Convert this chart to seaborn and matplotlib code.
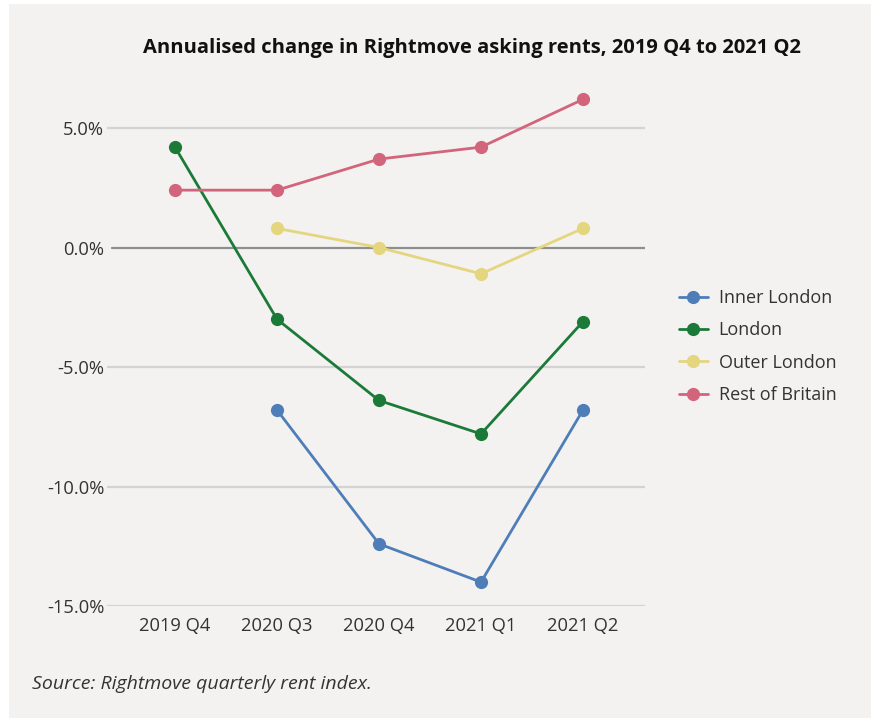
import numpy as np
import pandas as pd
import matplotlib
matplotlib.use("Agg")
import matplotlib.pyplot as plt
import seaborn as sns
from matplotlib.patches import Rectangle

quarters = ["2019 Q4", "2020 Q3", "2020 Q4", "2021 Q1", "2021 Q2"]
inner_london = [np.nan, -6.8, -12.4, -14.0, -6.8]
london = [4.2, -3.0, -6.4, -7.8, -3.1]
outer_london = [np.nan, 0.8, 0.0, -1.1, 0.8]
rest_of_britain = [2.4, 2.4, 3.7, 4.2, 6.2]
series_names = ["Inner London", "London", "Outer London", "Rest of Britain"]
colors = ["#4f7db8", "#1b7a38", "#e4d57f", "#d2647c"]
yticks = [5.0, 0.0, -5.0, -10.0, -15.0]

rows = []
for name, vals in zip(series_names, [inner_london, london, outer_london, rest_of_britain]):
    for q, v in zip(quarters, vals):
        if not np.isnan(v):
            rows.append({"quarter": q, "value": v, "series": name})
df = pd.DataFrame(rows)
df["quarter"] = pd.Categorical(df["quarter"], categories=quarters, ordered=True)
df["xpos"] = df["quarter"].cat.codes

sns.set_theme(style="white")
plt.rcParams["font.family"] = ["Open Sans", "DejaVu Sans"]

W, H = 871, 718
fig = plt.figure(figsize=(W / 100, H / 100), dpi=100, facecolor="white")
bg = "#f3f2f0"
fig.patches.append(Rectangle((9 / W, 0), 1, 1 - 4 / H, transform=fig.transFigure,
                             facecolor=bg, edgecolor="none", zorder=-10))

ax = fig.add_axes([107 / W, 112 / H, 538 / W, 521 / H])
ax.set_facecolor(bg)
ax.patch.set_alpha(0)

for y in yticks:
    if y == 0:
        ax.axhline(y, color="#8e8e8e", lw=1.6, zorder=1, xmin=0.01)
    else:
        ax.axhline(y, color="#d3d3d3", lw=1.6, zorder=1)

sns.lineplot(data=df, x="xpos", y="value", hue="series", hue_order=series_names,
             palette=colors, marker="o", markersize=9.5, markeredgewidth=0,
             linewidth=2.0, ax=ax, zorder=3, legend=True)

ax.set_xlim(-0.667, 4.608)
ax.set_ylim(-15, 6.8)
ax.set_xticks(range(len(quarters)))
ax.set_xticklabels(quarters)
ax.set_yticks(yticks)
ax.set_yticklabels([f"{v:.1f}%" for v in yticks])
ax.tick_params(axis="both", labelsize=13.2, labelcolor="#333333")
ax.tick_params(axis="x", length=5, width=1, color="#d3d3d3", direction="out", pad=3)
ax.tick_params(axis="y", length=0, pad=2)
ax.set_xlabel("")
ax.set_ylabel("")
for s in ax.spines.values():
    s.set_visible(False)

leg = ax.legend(loc="center left", bbox_to_anchor=(1.033, 0.498), frameon=False,
                fontsize=13, handlelength=1.6, handletextpad=0.6,
                labelspacing=0.8)
for t in leg.get_texts():
    t.set_color("#333333")

fig.text(472 / W, 1 - 48 / H, "Annualised change in Rightmove asking rents, 2019 Q4 to 2021 Q2",
         ha="center", va="center", fontsize=14.5, fontweight="bold", color="#111111")
fig.text(32 / W, 1 - 684 / H, "Source: Rightmove quarterly rent index.",
         ha="left", va="center", fontsize=14, fontstyle="italic", color="#333333")

fig.savefig("out.png", dpi=100, facecolor="white")
